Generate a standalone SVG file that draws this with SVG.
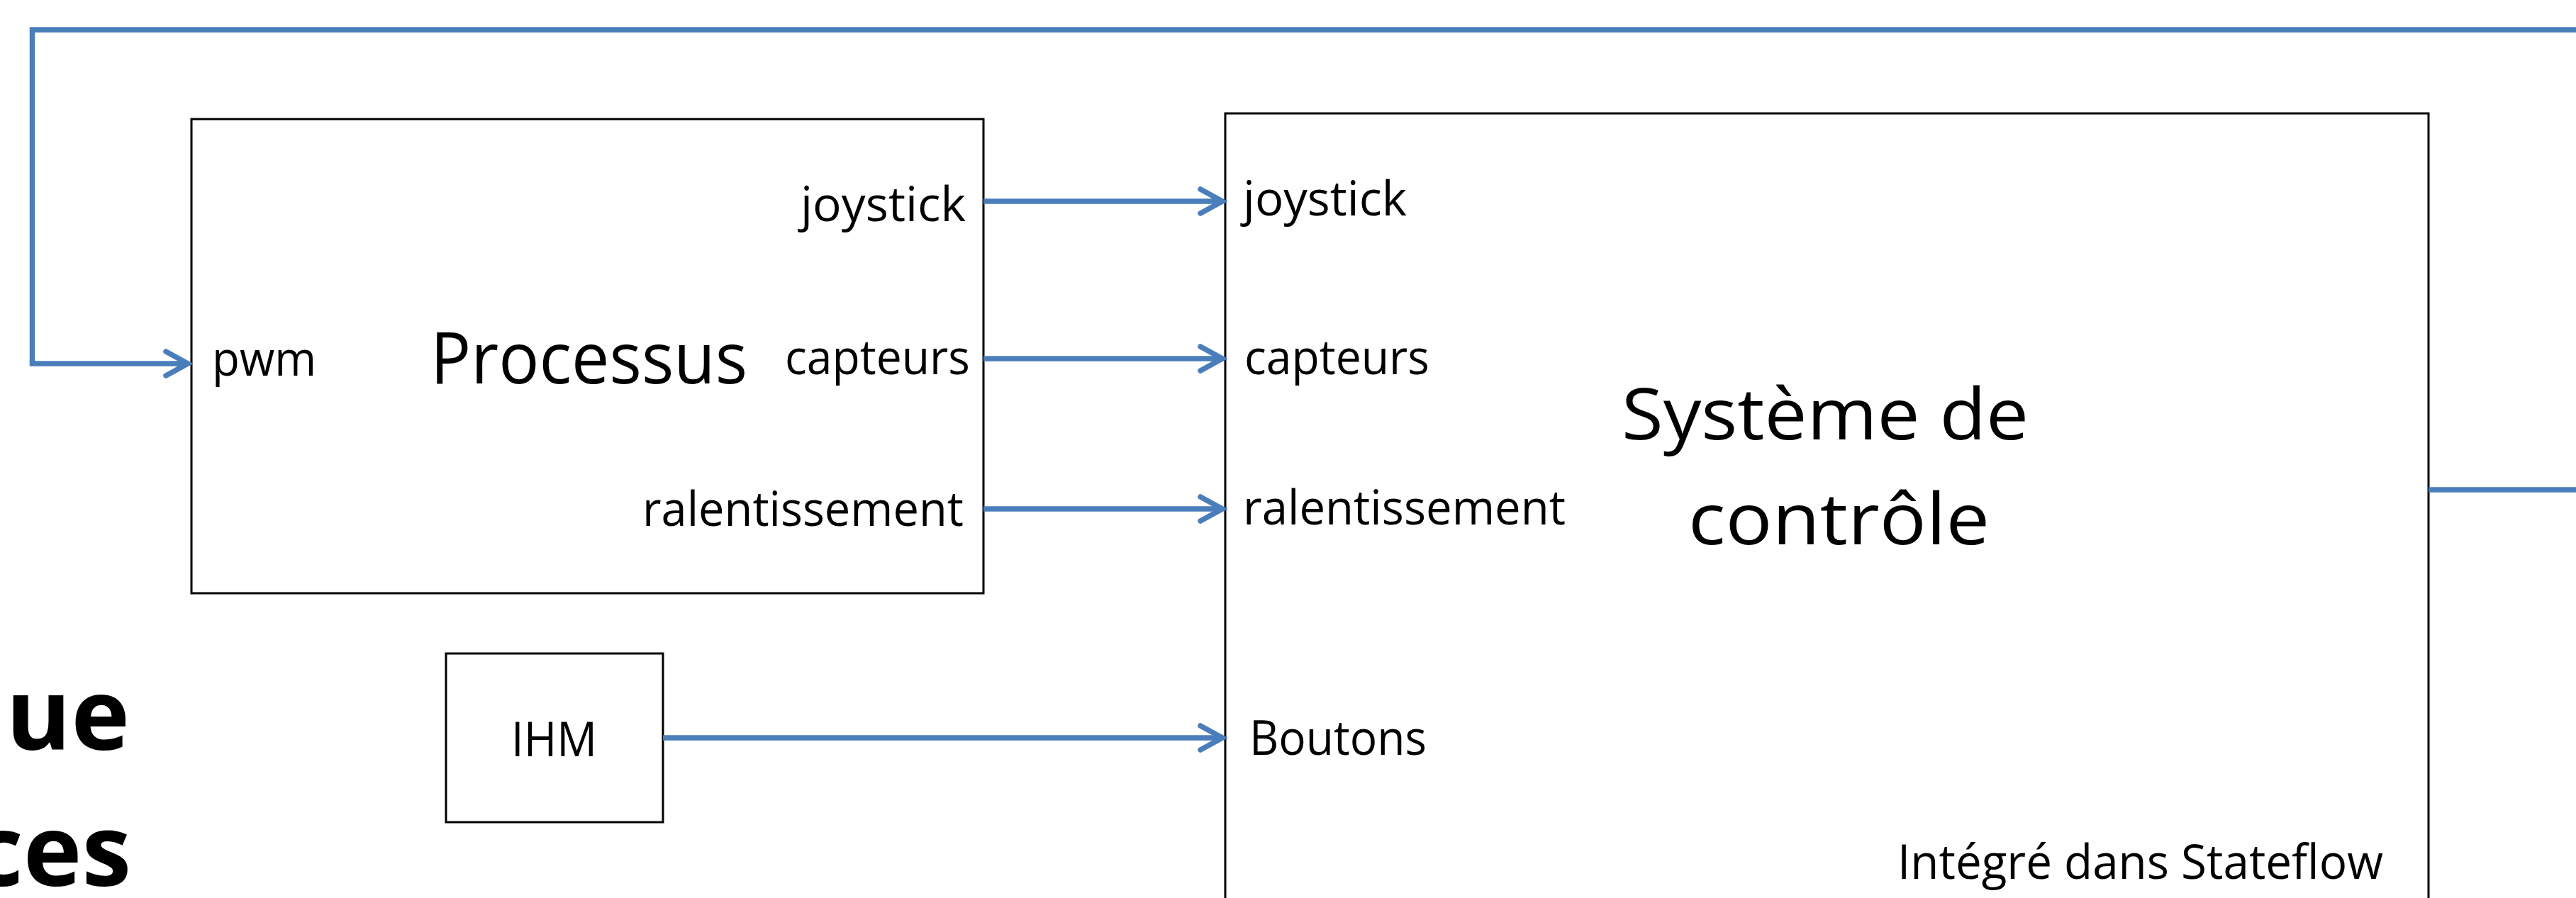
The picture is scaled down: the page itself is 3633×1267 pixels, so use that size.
<svg xmlns="http://www.w3.org/2000/svg" width="3633" height="1267" viewBox="0 0 3633 1267">
<style>
.box{fill:#ffffff;stroke:#000000;stroke-width:3}
.lbl{font-family:"Open Sans","Noto Sans",sans-serif;font-size:67px;fill:#000000}
.big{font-family:"Open Sans","Noto Sans",sans-serif;font-size:100px;fill:#000000}
.bold{font-family:"Open Sans","Noto Sans",sans-serif;font-size:140px;font-weight:bold;fill:#000000}
.conn{fill:none;stroke:#4A7EBB;stroke-width:7.5}
</style>
<defs>
<marker id="arr" markerUnits="userSpaceOnUse" viewBox="-45 -25 50 50" refX="0" refY="0" markerWidth="50" markerHeight="50" orient="auto" overflow="visible">
<path d="M -31 -17 L 0 0 L -31 17" fill="none" stroke="#4A7EBB" stroke-width="7.5" stroke-linecap="round" stroke-linejoin="miter"/>
</marker>
</defs>
<rect width="3633" height="1267" fill="#ffffff"/>
<g id="title-fragment">
<text class="bold" x="183" y="1058" text-anchor="end">que</text>
<text class="bold" x="185" y="1250" text-anchor="end">ces</text>
</g>
<g id="processus">
<rect class="box" x="270" y="168" width="1117" height="669"/>
<text class="lbl" x="299" y="530" textLength="147" lengthAdjust="spacingAndGlyphs">pwm</text>
<text class="big" x="607" y="541" textLength="447" lengthAdjust="spacingAndGlyphs">Processus</text>
<text class="lbl" x="1129" y="312" textLength="233" lengthAdjust="spacingAndGlyphs">joystick</text>
<text class="lbl" x="1107" y="528" textLength="261" lengthAdjust="spacingAndGlyphs">capteurs</text>
<text class="lbl" x="906" y="742" textLength="453" lengthAdjust="spacingAndGlyphs">ralentissement</text>
</g>
<g id="ihm">
<rect class="box" x="629" y="922" width="306" height="238"/>
<text class="lbl" x="721" y="1067" textLength="121" lengthAdjust="spacingAndGlyphs">IHM</text>
</g>
<g id="systeme-controle">
<rect class="box" x="1728" y="160" width="1697" height="1160"/>
<text class="lbl" x="1753" y="304" textLength="231" lengthAdjust="spacingAndGlyphs">joystick</text>
<text class="lbl" x="1755" y="528" textLength="261" lengthAdjust="spacingAndGlyphs">capteurs</text>
<text class="lbl" x="1753" y="740" textLength="455" lengthAdjust="spacingAndGlyphs">ralentissement</text>
<text class="lbl" x="1762" y="1065" textLength="250" lengthAdjust="spacingAndGlyphs">Boutons</text>
<text class="big" x="2287" y="620" font-size="108" textLength="574" lengthAdjust="spacingAndGlyphs">Système de</text>
<text class="big" x="2381" y="768" font-size="108" textLength="425" lengthAdjust="spacingAndGlyphs">contrôle</text>
<text class="lbl" x="2676" y="1240" textLength="685" lengthAdjust="spacingAndGlyphs">Intégré dans Stateflow</text>
</g>
<g id="connectors">
<path class="conn" d="M 3640 42 H 45.5 V 513 H 265" marker-end="url(#arr)"/>
<path class="conn" d="M 3425 691 H 3640"/>
<path class="conn" d="M 1387 284 H 1724" marker-end="url(#arr)"/>
<path class="conn" d="M 1387 506 H 1724" marker-end="url(#arr)"/>
<path class="conn" d="M 1387 718 H 1724" marker-end="url(#arr)"/>
<path class="conn" d="M 935 1041 H 1724" marker-end="url(#arr)"/>
</g>
</svg>
